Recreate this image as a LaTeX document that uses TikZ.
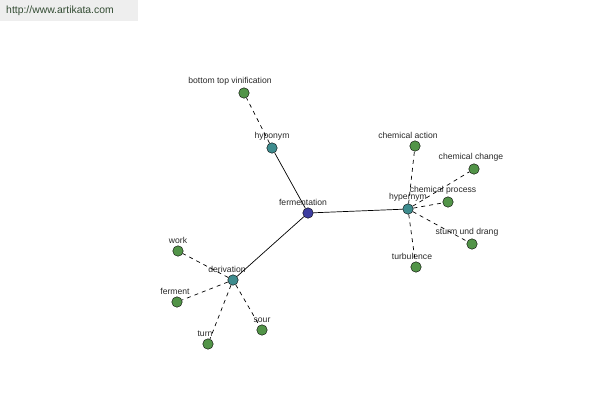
\documentclass[tikz,border=0pt]{standalone}
\usepackage{fontspec}
\setmainfont{Liberation Sans}
\usepackage{tikz}
\definecolor{rootc}{RGB}{62,62,160}
\definecolor{relc}{RGB}{62,140,142}
\definecolor{leafc}{RGB}{82,148,72}
\definecolor{txtc}{RGB}{40,40,40}
\tikzset{
 rt/.style={circle,draw,fill=rootc,inner sep=0pt,minimum size=10.5pt},
 rl/.style={circle,draw,fill=relc,inner sep=0pt,minimum size=10.5pt},
 lf/.style={circle,draw,fill=leafc,inner sep=0pt,minimum size=10.5pt},
 lb/.style={font=\fontsize{8.6}{9}\selectfont,text=txtc,inner sep=0pt},
 sl/.style={draw,line width=0.7pt},
 dl/.style={draw,line width=0.7pt,dash pattern=on 4pt off 4pt}}

\begin{document}
\begin{tikzpicture}[x=1pt,y=-1pt,label distance=2pt]
 \useasboundingbox (0,0) rectangle (600,400);
 \fill[gray!13] (0,0) rectangle (138,21);
 \node[font=\fontsize{10.4}{11}\selectfont,text={rgb,255:red,50;green,75;blue,50},inner sep=0pt] (site) at (60,11) {http://www.artikata.com};
 \node[rt,label={[lb,xshift=-5pt]above:{fermentation}}] (fer) at (308,213) {};
 \node[rl,label={[lb]above:{hyponym}}] (hypo) at (272,148) {};
 \node[lf,label={[lb,xshift=-14pt]above:{bottom top vinification}}] (btv) at (244,93) {};
 \node[rl,label={[lb]above:{hypernym}}] (hyper) at (408,209) {};
 \node[lf,label={[lb,xshift=-7pt]above:{chemical action}}] (cact) at (415,146) {};
 \node[lf,label={[lb,xshift=-3pt]above:{chemical change}}] (cchg) at (474,169) {};
 \node[lf,label={[lb,xshift=-5pt]above:{chemical process}}] (cproc) at (448,202) {};
 \node[lf,label={[lb,xshift=-5pt]above:{sturm und drang}}] (sud) at (472,244) {};
 \node[lf,label={[lb,xshift=-4pt]above:{turbulence}}] (turb) at (416,267) {};
 \node[rl,label={[lb,xshift=-6pt]above:{derivation}}] (deriv) at (233,280) {};
 \node[lf,label={[lb]above:{work}}] (work) at (178,251) {};
 \node[lf,label={[lb,xshift=-2pt]above:{ferment}}] (ferm) at (177,302) {};
 \node[lf,label={[lb,xshift=-3pt]above:{turn}}] (turn) at (208,344) {};
 \node[lf,label={[lb]above:{sour}}] (sour) at (262,330) {};
 % links
 \path[sl] (fer) -- (hypo) (fer) -- (hyper) (fer) -- (deriv);
 \path[dl] (hypo) -- (btv);
 \path[dl] (hyper) -- (cact) (hyper) -- (cchg) (hyper) -- (cproc)
  (hyper) -- (sud) (hyper) -- (turb);
 \path[dl] (deriv) -- (work) (deriv) -- (ferm) (deriv) -- (turn) (deriv) -- (sour);
\end{tikzpicture}
\end{document}
